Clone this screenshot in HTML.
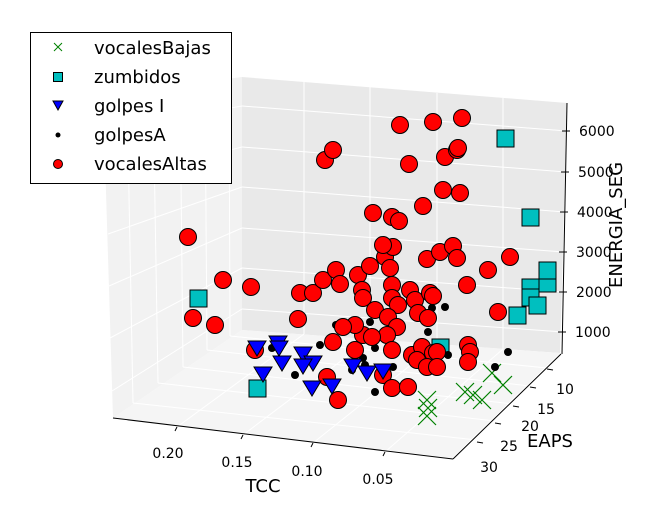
<!DOCTYPE html>
<html><head><meta charset="utf-8"><style>
html,body{margin:0;padding:0;background:#fff;}
svg{display:block;font-family:"DejaVu Sans","Liberation Sans",sans-serif;}
</style></head><body>
<svg width="661" height="521" viewBox="0 0 661 521" xmlns="http://www.w3.org/2000/svg">
<!-- panes -->
<polygon points="103,95 242,77 242,330 113,418" fill="#f2f2f2"/>
<polygon points="242,77 567,103 560,353 242,330" fill="#e9e9e9"/>
<polygon points="113,418 452,458 560,353 242,330" fill="#f5f5f5"/>
<g stroke="#fff" stroke-width="1" fill="none">
<!-- back wall z grid -->
<line x1="242" y1="309" x2="563" y2="332"/>
<line x1="242" y1="268" x2="563" y2="292"/>
<line x1="242" y1="228" x2="564" y2="252"/>
<line x1="242" y1="187" x2="565" y2="212"/>
<line x1="242" y1="147" x2="566" y2="172"/>
<line x1="242" y1="106" x2="567" y2="131"/>
<!-- back wall TCC verticals -->
<line x1="304" y1="82" x2="304" y2="334"/>
<line x1="370" y1="87" x2="370" y2="339"/>
<line x1="437" y1="93" x2="437" y2="344"/>
<line x1="503" y1="98" x2="503" y2="349"/>
<!-- left wall z grid -->
<line x1="242" y1="309" x2="112" y2="391"/>
<line x1="242" y1="268" x2="110" y2="338"/>
<line x1="242" y1="228" x2="109" y2="286"/>
<line x1="242" y1="187" x2="108" y2="234"/>
<line x1="242" y1="147" x2="106" y2="182"/>
<line x1="242" y1="106" x2="105" y2="130"/>
<!-- left wall EAPS verticals -->
<line x1="133" y1="403" x2="127" y2="92"/>
<line x1="158" y1="383" x2="153" y2="88"/>
<line x1="183" y1="367" x2="180" y2="85"/>
<line x1="207" y1="350" x2="205" y2="82"/>
<line x1="230" y1="336" x2="229" y2="79"/>
<!-- floor TCC lines -->
<line x1="177" y1="427" x2="304" y2="334"/>
<line x1="243" y1="435" x2="370" y2="339"/>
<line x1="313" y1="443" x2="437" y2="344"/>
<line x1="385" y1="452" x2="503" y2="349"/>
<!-- floor EAPS lines -->
<line x1="547" y1="368" x2="230" y2="336"/>
<line x1="530" y1="386" x2="207" y2="350"/>
<line x1="513" y1="404" x2="183" y2="367"/>
<line x1="495" y1="421" x2="158" y2="383"/>
<line x1="477" y1="440" x2="133" y2="403"/>
</g>
<!-- axes lines -->
<g stroke="#000" stroke-width="1" fill="none">
<line x1="113" y1="418" x2="453" y2="459"/>
<line x1="453" y1="459" x2="561" y2="354"/>
<line x1="562" y1="354" x2="567" y2="103"/>
<!-- ticks -->
<line x1="177" y1="427" x2="175" y2="431"/><line x1="243" y1="435" x2="241" y2="439"/><line x1="313" y1="443" x2="311" y2="447"/><line x1="385" y1="452" x2="383" y2="456"/>
<line x1="547" y1="369" x2="553" y2="370"/><line x1="530" y1="387" x2="536" y2="388"/><line x1="513" y1="406" x2="519" y2="407"/><line x1="495" y1="423" x2="501" y2="424"/><line x1="477" y1="442" x2="483" y2="443"/>
<line x1="558" y1="332" x2="566" y2="332"/><line x1="559" y1="292" x2="567" y2="292"/><line x1="559" y1="252" x2="567" y2="252"/><line x1="560" y1="212" x2="568" y2="212"/><line x1="561" y1="172" x2="569" y2="172"/><line x1="562" y1="131" x2="570" y2="131"/>
</g>
<g font-size="14" fill="#000">
<text x="168" y="458" text-anchor="middle">0.20</text>
<text x="237" y="467" text-anchor="middle">0.15</text>
<text x="307" y="476" text-anchor="middle">0.10</text>
<text x="378" y="484" text-anchor="middle">0.05</text>
<text x="565" y="394" text-anchor="middle">10</text>
<text x="546" y="414" text-anchor="middle">15</text>
<text x="530" y="431" text-anchor="middle">20</text>
<text x="509" y="451" text-anchor="middle">25</text>
<text x="489" y="472" text-anchor="middle">30</text>
<text x="575" y="337">1000</text>
<text x="576" y="297">2000</text>
<text x="576" y="257">3000</text>
<text x="577" y="217">4000</text>
<text x="578" y="177">5000</text>
<text x="579" y="136">6000</text>
</g>
<g font-size="18" fill="#000">
<text x="263" y="492" text-anchor="middle">TCC</text>
<text x="550" y="447" text-anchor="middle">EAPS</text>
<text transform="translate(622,225) rotate(-90)" text-anchor="middle">ENERGIA_SEG</text>
</g>
<!-- green x -->
<g stroke="#008000" stroke-width="1.2">
<path d="M418,391 l18,18 m0,-18 l-18,18"/>
<path d="M419,399 l18,18 m0,-18 l-18,18"/>
<path d="M418,407 l18,18 m0,-18 l-18,18"/>
<path d="M456,383 l18,18 m0,-18 l-18,18"/>
<path d="M464,386 l18,18 m0,-18 l-18,18"/>
<path d="M473,391 l18,18 m0,-18 l-18,18"/>
<path d="M483,364 l18,18 m0,-18 l-18,18"/>
<path d="M494,376 l18,18 m0,-18 l-18,18"/>
</g>
<!-- cyan squares -->
<g fill="#00bfbf" stroke="#000" stroke-width="1">
<rect x="497" y="130" width="17" height="17"/>
<rect x="522" y="209" width="17" height="17"/>
<rect x="522" y="279" width="17" height="17"/>
<rect x="539" y="275" width="17" height="17"/>
<rect x="539" y="262" width="17" height="17"/>
<rect x="522" y="289" width="17" height="17"/>
<rect x="529" y="297" width="17" height="17"/>
<rect x="509" y="307" width="17" height="17"/>
<rect x="190" y="290" width="17" height="17"/>
<rect x="249" y="380" width="17" height="17"/>
<rect x="432" y="339" width="17" height="17"/>
</g>
<!-- black dots -->
<g fill="#000">
<circle cx="336" cy="325" r="4"/><circle cx="370" cy="322" r="4"/><circle cx="320" cy="345" r="4"/><circle cx="272" cy="348" r="4"/><circle cx="295" cy="375" r="4"/><circle cx="352" cy="370" r="4"/><circle cx="375" cy="348" r="4"/><circle cx="375" cy="392" r="4"/><circle cx="365" cy="365" r="4"/><circle cx="445" cy="307" r="4"/><circle cx="432" cy="308" r="4"/><circle cx="428" cy="332" r="4"/><circle cx="448" cy="355" r="4"/><circle cx="508" cy="352" r="4"/><circle cx="495" cy="367" r="4"/><circle cx="393" cy="367" r="4"/><circle cx="363" cy="358" r="4"/>
</g>
<!-- red circles -->
<g fill="#ff0000" stroke="#000" stroke-width="1">
<circle cx="188" cy="237" r="8.5"/><circle cx="223" cy="280" r="8.5"/><circle cx="251" cy="287" r="8.5"/><circle cx="193" cy="318" r="8.5"/><circle cx="215" cy="325" r="8.5"/><circle cx="298" cy="319" r="8.5"/><circle cx="300" cy="293" r="8.5"/><circle cx="313" cy="293" r="8.5"/><circle cx="323" cy="280" r="8.5"/><circle cx="336" cy="270" r="8.5"/><circle cx="340" cy="284" r="8.5"/><circle cx="358" cy="275" r="8.5"/><circle cx="370" cy="266" r="8.5"/><circle cx="385" cy="257" r="8.5"/><circle cx="390" cy="268" r="8.5"/><circle cx="393" cy="247" r="8.5"/><circle cx="383" cy="245" r="8.5"/><circle cx="373" cy="213" r="8.5"/><circle cx="392" cy="217" r="8.5"/><circle cx="399" cy="221" r="8.5"/><circle cx="423" cy="206" r="8.5"/><circle cx="443" cy="190" r="8.5"/><circle cx="460" cy="193" r="8.5"/><circle cx="400" cy="125" r="8.5"/><circle cx="433" cy="122" r="8.5"/><circle cx="462" cy="118" r="8.5"/><circle cx="325" cy="160" r="8.5"/><circle cx="333" cy="150" r="8.5"/><circle cx="409" cy="164" r="8.5"/><circle cx="445" cy="157" r="8.5"/><circle cx="457" cy="150" r="8.5"/><circle cx="458" cy="148" r="8.5"/><circle cx="427" cy="259" r="8.5"/><circle cx="440" cy="252" r="8.5"/><circle cx="453" cy="246" r="8.5"/><circle cx="457" cy="258" r="8.5"/><circle cx="488" cy="270" r="8.5"/><circle cx="510" cy="257" r="8.5"/><circle cx="467" cy="285" r="8.5"/><circle cx="498" cy="312" r="8.5"/><circle cx="362" cy="290" r="8.5"/><circle cx="363" cy="298" r="8.5"/><circle cx="392" cy="285" r="8.5"/><circle cx="392" cy="298" r="8.5"/><circle cx="410" cy="290" r="8.5"/><circle cx="415" cy="300" r="8.5"/><circle cx="430" cy="293" r="8.5"/><circle cx="433" cy="296" r="8.5"/><circle cx="398" cy="305" r="8.5"/><circle cx="375" cy="310" r="8.5"/><circle cx="388" cy="317" r="8.5"/><circle cx="418" cy="313" r="8.5"/><circle cx="428" cy="318" r="8.5"/><circle cx="397" cy="327" r="8.5"/><circle cx="387" cy="335" r="8.5"/><circle cx="363" cy="335" r="8.5"/><circle cx="355" cy="325" r="8.5"/><circle cx="343" cy="327" r="8.5"/><circle cx="333" cy="342" r="8.5"/><circle cx="372" cy="337" r="8.5"/><circle cx="355" cy="350" r="8.5"/><circle cx="392" cy="350" r="8.5"/><circle cx="412" cy="355" r="8.5"/><circle cx="422" cy="347" r="8.5"/><circle cx="433" cy="353" r="8.5"/><circle cx="437" cy="352" r="8.5"/><circle cx="417" cy="360" r="8.5"/><circle cx="427" cy="367" r="8.5"/><circle cx="437" cy="367" r="8.5"/><circle cx="468" cy="345" r="8.5"/><circle cx="470" cy="352" r="8.5"/><circle cx="468" cy="362" r="8.5"/><circle cx="383" cy="375" r="8.5"/><circle cx="392" cy="388" r="8.5"/><circle cx="408" cy="387" r="8.5"/><circle cx="327" cy="377" r="8.5"/><circle cx="338" cy="400" r="8.5"/><circle cx="255" cy="350" r="8.5"/>
</g>
<!-- blue triangles -->
<g fill="#0000ff" stroke="#000" stroke-width="1">
<path d="M248,341 h18 l-9,15 z"/><path d="M269,336 h18 l-9,15 z"/><path d="M270,341 h18 l-9,15 z"/><path d="M273,356 h18 l-9,15 z"/><path d="M294,347 h18 l-9,15 z"/><path d="M304,356 h18 l-9,15 z"/><path d="M294,359 h18 l-9,15 z"/><path d="M254,367 h18 l-9,15 z"/><path d="M303,381 h18 l-9,15 z"/><path d="M323,379 h18 l-9,15 z"/><path d="M344,359 h18 l-9,15 z"/><path d="M358,366 h18 l-9,15 z"/><path d="M374,364 h18 l-9,15 z"/>
</g>
<!-- legend -->
<rect x="30.5" y="32.5" width="201" height="151" fill="#fff" stroke="#000" stroke-width="1"/>
<g stroke="#008000" stroke-width="1"><path d="M54,43 l8,8 m0,-8 l-8,8"/></g>
<rect x="53.5" y="72.5" width="9" height="9" fill="#00bfbf" stroke="#000"/>
<path d="M53,101 h10 l-5,9 z" fill="#0000ff" stroke="#000"/>
<circle cx="58" cy="135" r="2.5" fill="#000"/>
<circle cx="58" cy="164" r="4.5" fill="#ff0000" stroke="#000"/>
<g font-size="18" fill="#000">
<text x="94" y="54">vocalesBajas</text>
<text x="94" y="83">zumbidos</text>
<text x="94" y="112">golpes I</text>
<text x="94" y="141">golpesA</text>
<text x="94" y="170">vocalesAltas</text>
</g>
</svg>
</body></html>
